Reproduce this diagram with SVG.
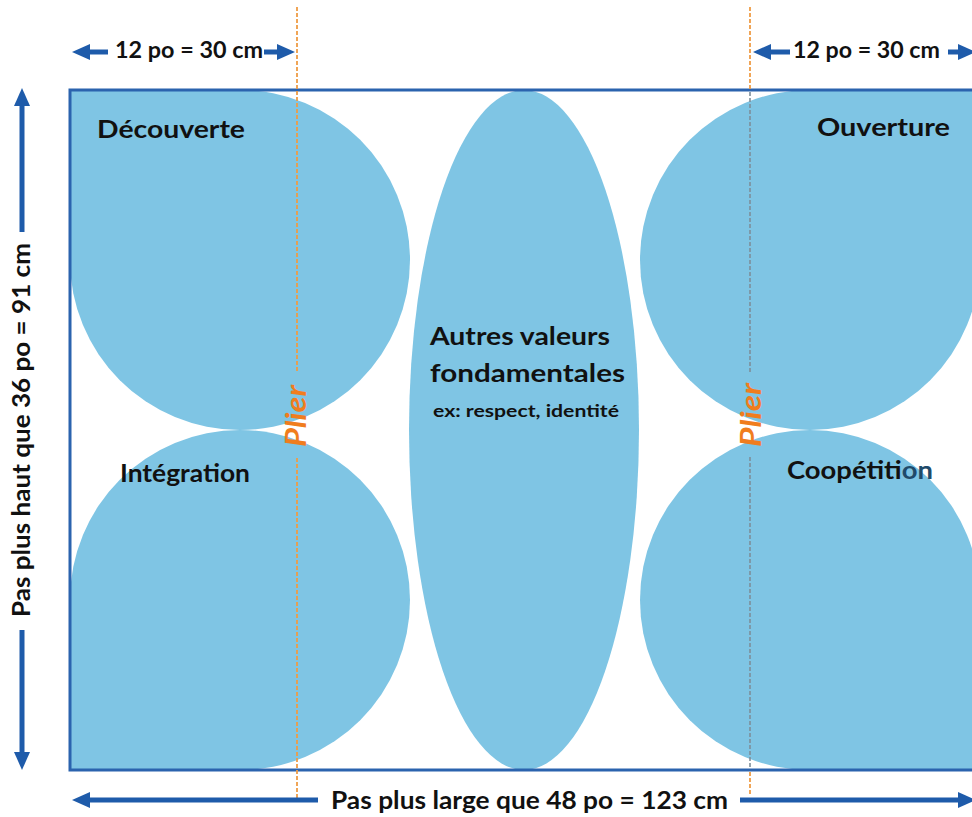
<svg xmlns="http://www.w3.org/2000/svg" width="972" height="817" viewBox="0 0 972 817">
<defs>
<style>
.blob{fill:#7FC5E4;}
.lbl{font-family:Lato,"Open Sans","Liberation Sans",sans-serif;font-weight:bold;fill:#111;}
.dim{font-family:Lato,"Open Sans","Liberation Sans",sans-serif;font-weight:bold;fill:#111;}
.plier{font-family:Lato,"Open Sans","Liberation Sans",sans-serif;font-weight:bold;font-style:italic;fill:#F07D1E;font-size:28px;}
.arr{stroke:#1E5BAA;stroke-width:5;fill:none;marker-end:url(#ah);}
.fold{stroke:#EF9C45;stroke-width:1.8;stroke-dasharray:4 2;fill:none;}
.foldg{stroke:#7D8E9A;stroke-width:1.6;stroke-dasharray:4 2;fill:none;}
</style>
<marker id="ah" viewBox="0 0 18 16" refX="10" refY="8" markerWidth="18" markerHeight="16" markerUnits="userSpaceOnUse" orient="auto">
<path d="M0,0 L18,8 L0,16 z" fill="#1E5BAA"/>
</marker>
</defs>
<rect x="0" y="0" width="972" height="817" fill="#fff"/>

<g id="decouverte">
<path class="blob" d="M70,90 H240 A170,170 0 0 1 240,430 A170,170 0 0 1 70,260 Z"/>
<text class="lbl" x="97" y="138" font-size="25" textLength="148" lengthAdjust="spacingAndGlyphs">Découverte</text>
</g>
<g id="integration">
<path class="blob" d="M240,430 A170,170 0 0 1 240,770 H70 V600 A170,170 0 0 1 240,430 Z"/>
<text class="lbl" x="120" y="482" font-size="24" textLength="130" lengthAdjust="spacingAndGlyphs">Intégration</text>
</g>
<g id="ouverture">
<path class="blob" d="M810,90 H980 V260 A170,170 0 0 1 810,430 A170,170 0 0 1 640,260 A170,170 0 0 1 810,90 Z"/>
<text class="lbl" x="817" y="136" font-size="25" textLength="133" lengthAdjust="spacingAndGlyphs">Ouverture</text>
</g>
<g id="coopetition">
<path class="blob" d="M810,430 A170,170 0 0 1 980,600 V770 H810 A170,170 0 0 1 640,600 A170,170 0 0 1 810,430 Z"/>
<text class="lbl" x="787" y="479" font-size="24" textLength="146" lengthAdjust="spacingAndGlyphs">Coopétit<tspan fill="#1F4B6B">ion</tspan></text>
</g>
<g id="autres-valeurs">
<ellipse class="blob" cx="524" cy="430" rx="115" ry="340"/>
<text class="lbl" x="430" y="345" font-size="25" textLength="180" lengthAdjust="spacingAndGlyphs">Autres valeurs</text>
<text class="lbl" x="430" y="382" font-size="25" textLength="195" lengthAdjust="spacingAndGlyphs">fondamentales</text>
<text class="lbl" x="433" y="417" font-size="17" textLength="186" lengthAdjust="spacingAndGlyphs">ex: respect, identité</text>
</g>

<rect id="cadre" x="70" y="90" width="910" height="680" fill="none" stroke="#2B63AE" stroke-width="3"/>

<g id="plis">
<line class="fold" x1="297" y1="7" x2="297" y2="373"/>
<line class="fold" x1="297" y1="458" x2="297" y2="800"/>
<line class="fold" x1="750" y1="7" x2="750" y2="90"/>
<line class="foldg" x1="750" y1="92" x2="750" y2="373"/>
<line class="foldg" x1="750" y1="457" x2="750" y2="768"/>
<line class="fold" x1="750" y1="772" x2="750" y2="796"/>
<text class="plier" transform="rotate(-90 306 416)" x="306" y="416" text-anchor="middle" textLength="62" lengthAdjust="spacingAndGlyphs">Plier</text>
<text class="plier" transform="rotate(-90 761 415)" x="761" y="415" text-anchor="middle" textLength="64" lengthAdjust="spacingAndGlyphs">Plier</text>
</g>

<g id="connecteurs">
<line class="arr" x1="108" y1="52" x2="80" y2="52"/>
<line class="arr" x1="264" y1="52" x2="287" y2="52"/>
<line class="arr" x1="790" y1="52" x2="761" y2="52"/>
<line class="arr" x1="948" y1="52" x2="968" y2="52"/>
<line class="arr" x1="318" y1="800" x2="80" y2="800"/>
<line class="arr" x1="740" y1="800" x2="968" y2="800"/>
<line class="arr" x1="22" y1="232" x2="22" y2="96"/>
<line class="arr" x1="22" y1="630" x2="22" y2="762"/>
</g>

<g id="cotes">
<text class="dim" x="115" y="58" font-size="22" textLength="148" lengthAdjust="spacingAndGlyphs">12 po = 30 cm</text>
<text class="dim" x="793" y="58" font-size="22" textLength="147" lengthAdjust="spacingAndGlyphs">12 po = 30 cm</text>
<text class="dim" x="331" y="809" font-size="25" textLength="397" lengthAdjust="spacingAndGlyphs">Pas plus large que 48 po = 123 cm</text>
<text class="dim" transform="rotate(-90 30 430)" x="30" y="430" text-anchor="middle" font-size="24" textLength="374" lengthAdjust="spacingAndGlyphs">Pas plus haut que 36 po = 91 cm</text>
</g>
</svg>
